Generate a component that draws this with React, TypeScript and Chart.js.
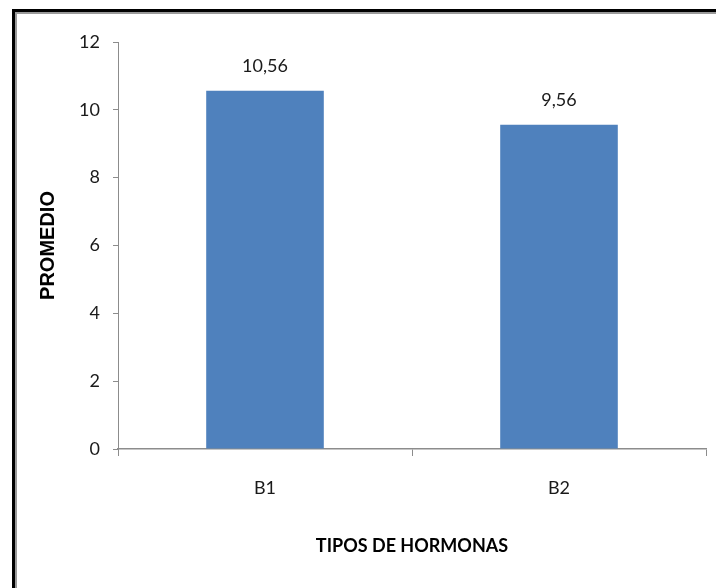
import React, { useEffect, useRef } from "react";
import { Chart, registerables } from "chart.js";

Chart.register(...registerables);

const categories = ["B1", "B2"];
const promedio = [10.56, 9.56];
const valueLabels = ["10,56", "9,56"];
const yMin = 0;
const yMax = 12;
const yStep = 2;
const xTitle = "TIPOS DE HORMONAS";
const yTitle = "PROMEDIO";

const valueLabelPlugin = {
  id: "valueLabels",
  afterDatasetsDraw(chart: any) {
    const ctx = chart.ctx;
    const meta = chart.getDatasetMeta(0);
    ctx.save();
    ctx.font = "18px Lato";
    ctx.fillStyle = "#1a1a1a";
    ctx.textAlign = "center";
    ctx.textBaseline = "middle";
    meta.data.forEach((bar: any, i: number) => {
      ctx.fillText(valueLabels[i], bar.x, bar.y - 25);
    });
    ctx.restore();
  },
};

export default function App() {
  const ref = useRef<HTMLCanvasElement | null>(null);

  useEffect(() => {
    if (!ref.current) return;
    const chart = new Chart(ref.current, {
      type: "bar",
      data: {
        labels: categories,
        datasets: [
          {
            data: promedio,
            backgroundColor: "#4F81BD",
            borderWidth: 0,
            barPercentage: 0.4,
            categoryPercentage: 1,
          },
        ],
      },
      options: {
        responsive: false,
        animation: false,
        layout: { padding: { top: 42, right: 10, left: 0, bottom: 0 } },
        plugins: {
          legend: { display: false },
          tooltip: { enabled: false },
        },
        scales: {
          x: {
            afterFit: (s: any) => {
              s.height = 139;
            },
            grid: {
              offset: true,
              drawOnChartArea: false,
              drawTicks: true,
              tickLength: 7,
              tickColor: "#8c8c8c",
            },
            border: { color: "#8c8c8c", width: 1.5 },
            ticks: {
              color: "#1a1a1a",
              font: { family: "Lato", size: 18 },
              padding: 21,
            },
            title: {
              display: true,
              text: xTitle,
              color: "#000",
              font: { family: "Lato", size: 18, weight: "bold" },
              padding: { top: 0, bottom: 31 },
            },
          },
          y: {
            min: yMin,
            max: yMax,
            afterFit: (s: any) => {
              s.width = 118;
            },
            grid: {
              drawOnChartArea: false,
              drawTicks: true,
              tickLength: 5,
              tickColor: "#8c8c8c",
            },
            border: { color: "#8c8c8c", width: 1 },
            ticks: {
              stepSize: yStep,
              color: "#1a1a1a",
              font: { family: "Lato", size: 18 },
              padding: 13,
            },
            title: {
              display: true,
              text: yTitle,
              color: "#000",
              font: { family: "Liberation Sans", size: 20, weight: "bold" },
              padding: { top: 36, bottom: 0 },
            },
          },
        },
      },
      plugins: [valueLabelPlugin],
    });
    return () => chart.destroy();
  }, []);

  return (
    <div style={{ position: "absolute", left: 0, top: 0, width: 716, height: 588, background: "#fff" }}>
      <canvas ref={ref} width={716} height={588} style={{ position: "absolute", left: 0, top: 0 }} />
      <div style={{ position: "absolute", left: 12, top: 9, right: 0, height: 3, background: "#000" }} />
      <div style={{ position: "absolute", left: 12, top: 9, bottom: 0, width: 3, background: "#000" }} />
      <div style={{ position: "absolute", left: 15, top: 12, right: 0, height: 2, background: "#9a9a9a" }} />
      <div style={{ position: "absolute", left: 15, top: 12, bottom: 0, width: 2, background: "#9a9a9a" }} />
    </div>
  );
}
